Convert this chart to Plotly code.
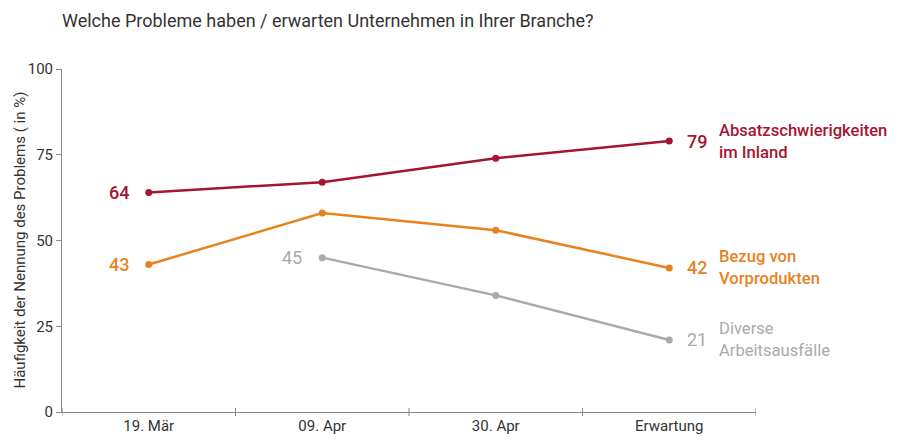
import plotly.graph_objects as go

categories = ["19. Mär", "09. Apr", "30. Apr", "Erwartung"]
absatz = [64, 67, 74, 79]
bezug = [43, 58, 53, 42]
diverse = [None, 45, 34, 21]
series_names = ["Absatzschwierigkeiten<br>im Inland", "Bezug von<br>Vorprodukten", "Diverse<br>Arbeitsausfälle"]
colors = ["#A51431", "#E8821E", "#A9A9AE"]
y_ticks = [0, 25, 50, 75, 100]

FONT = "Roboto"
# the page body adds an 8px offset, so the figure is drawn 8px smaller
W, H = 892, 438
L, T, R, B = 54, 61, 144, 34
fig = go.Figure()
xs = list(range(len(categories)))
for vals, col, name in zip([absatz, bezug, diverse], colors, series_names):
    fig.add_trace(go.Scatter(x=xs, y=vals, mode="lines+markers", name=name,
                             line=dict(color=col, width=2.5),
                             marker=dict(color=col, size=7),
                             connectgaps=False, showlegend=False, hoverinfo="skip"))

ann = []
for vals, col, name in zip([absatz, bezug, diverse], colors, series_names):
    first = next(i for i, v in enumerate(vals) if v is not None)
    weight = 500 if col != colors[2] else 400
    ann.append(dict(x=xs[first], y=vals[first], xref="x", yref="y", text=str(vals[first]),
                    showarrow=False, xanchor="right", xshift=-18,
                    font=dict(family=FONT, size=18, color=col, weight=weight)))
    ann.append(dict(x=xs[-1], y=vals[-1], xref="x", yref="y", text=str(vals[-1]),
                    showarrow=False, xanchor="left", xshift=16,
                    font=dict(family=FONT, size=18, color=col, weight=weight)))
    ann.append(dict(x=xs[-1], y=vals[-1], xref="x", yref="y", text=name,
                    showarrow=False, xanchor="left", yanchor="middle", xshift=48, align="left",
                    font=dict(family=FONT, size=16.6, color=col, weight=weight)))

ann.append(dict(x=(0 - L) / (W - L - R), y=0.5, xref="paper", yref="paper",
                xanchor="left", yanchor="middle",
                text="Häufigkeit der Nennung des Problems ( in %)", textangle=-90, showarrow=False,
                font=dict(family=FONT, size=15, color="#333333")))
ann.append(dict(x=(L - 2 - L) / (W - L - R), y=1 + T / (H - T - B), xref="paper", yref="paper",
                xanchor="left", yanchor="top", showarrow=False,
                text="Welche Probleme haben / erwarten Unternehmen in Ihrer Branche?",
                font=dict(family=FONT, size=18, color="#333333")))

fig.update_layout(
    width=W, height=H,
    margin=dict(l=L, r=R, t=T, b=B),
    paper_bgcolor="white", plot_bgcolor="white",
    annotations=ann,
    xaxis=dict(range=[-0.5, 3.5], tickmode="array", tickvals=xs, ticktext=categories,
               showgrid=False, zeroline=False, showline=True, linecolor="#888888", linewidth=1,
               ticks="", automargin=False,
               tickfont=dict(family=FONT, size=15, color="#333333"), fixedrange=True),
    yaxis=dict(range=[0, 100], tickvals=y_ticks, showgrid=False, zeroline=False,
               showline=True, linecolor="#888888", linewidth=1, ticks="outside", ticklen=5,
               tickcolor="#888888", automargin=False,
               tickfont=dict(family=FONT, size=15, color="#333333")),
)
# category divider ticks on the x axis
for b in [-0.5, 0.5, 1.5, 2.5, 3.5]:
    fig.add_shape(type="line", xref="x", yref="paper", x0=b, x1=b, y0=-0.012, y1=0.012,
                  line=dict(color="#888888", width=1))

fig.write_html("out.html")
